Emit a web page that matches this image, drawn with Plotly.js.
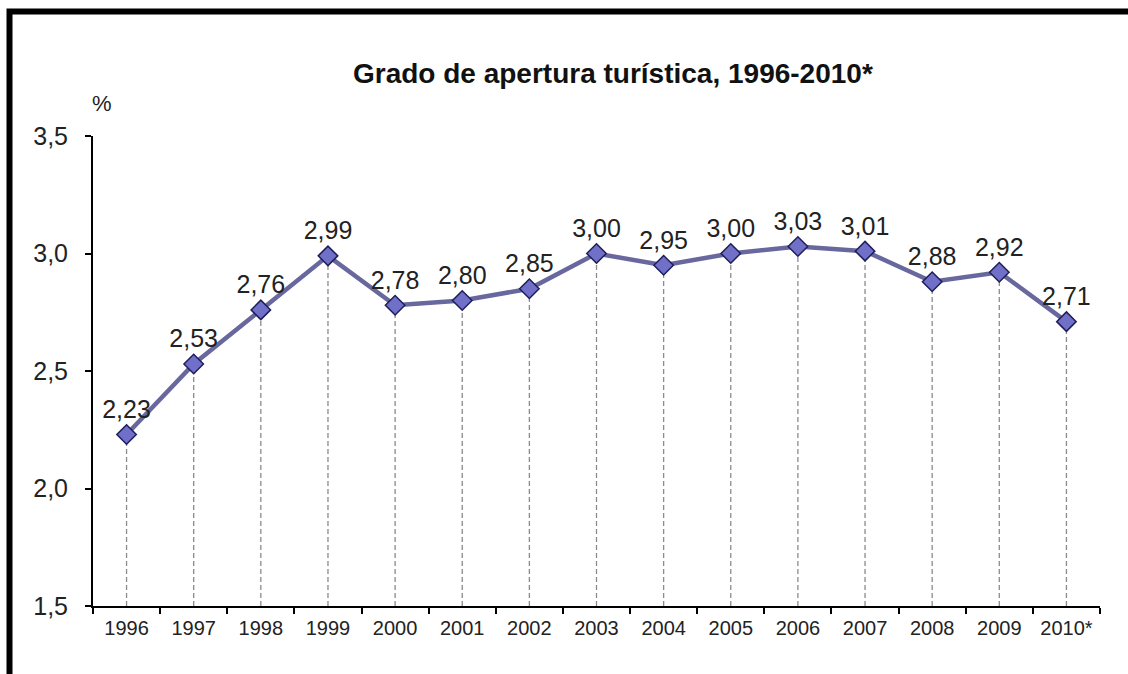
<!DOCTYPE html>
<html>
<head>
<meta charset="utf-8">
<script src="https://cdn.plot.ly/plotly-3.0.1.min.js"></script>
<style>
  html, body { margin: 0; padding: 0; background: #fff; }
  #chart { width: 1128px; height: 674px; }
</style>
</head>
<body>
<div id="chart"></div>
<script>
// Grado de apertura turística
var years = ['1996', '1997', '1998', '1999', '2000', '2001', '2002', '2003',
             '2004', '2005', '2006', '2007', '2008', '2009', '2010*'];
var values = [2.23, 2.53, 2.76, 2.99, 2.78, 2.80, 2.85, 3.00,
              2.95, 3.00, 3.03, 3.01, 2.88, 2.92, 2.71];
var yTicks = [1.5, 2.0, 2.5, 3.0, 3.5];
var yMin = 1.5, yMax = 3.5;

var font = '"Liberation Sans", Arial, sans-serif';

// dashed drop lines from each point down to the axis
var dropX = [], dropY = [];
years.forEach(function(yr, i) {
  dropX.push(yr, yr, null);
  dropY.push(yMin, values[i], null);
});

var drops = {
  x: dropX, y: dropY,
  type: 'scatter', mode: 'lines',
  line: {color: 'rgb(140,140,140)', width: 1.3, dash: '5px,3px'},
  hoverinfo: 'skip', showlegend: false, cliponaxis: false
};

var serie = {
  x: years, y: values,
  type: 'scatter', mode: 'lines+markers+text',
  line: {color: 'rgb(104,104,158)', width: 4.5},
  marker: {symbol: 'diamond', size: 15, color: 'rgb(112,112,200)',
           line: {color: 'rgb(30,30,90)', width: 1.5}},
  texttemplate: '%{y:.2f}', textposition: 'top center',
  textfont: {family: font, size: 25, color: '#222'},
  showlegend: false, cliponaxis: false
};

var layout = {
  width: 1128, height: 674,
  margin: {l: 93, r: 28, t: 136, b: 68},
  paper_bgcolor: '#fff', plot_bgcolor: '#fff',
  separators: ',.',
  font: {family: font, color: '#222'},
  showlegend: false,
  xaxis: {
    type: 'category', range: [-0.5, years.length - 0.5],
    showgrid: false, zeroline: false,
    showline: true, linecolor: '#000', linewidth: 2,
    ticks: 'outside', tickson: 'boundaries', ticklen: 6, tickwidth: 2, tickcolor: '#000',
    tickfont: {family: font, size: 20, color: '#222'},
    ticklabelstandoff: 3
  },
  yaxis: {
    range: [yMin, yMax],
    tickvals: yTicks, tickformat: '.1f',
    showgrid: false, zeroline: false,
    showline: true, linecolor: '#000', linewidth: 2,
    ticks: 'outside', ticklen: 6, tickwidth: 2, tickcolor: '#000',
    tickfont: {family: font, size: 25, color: '#222'},
    ticklabelstandoff: 12
  },
  annotations: [
    {xref: 'paper', yref: 'paper', x: 0.516, y: 1.133, xanchor: 'center', yanchor: 'middle',
     text: '<b>Grado de apertura turística, 1996-2010*</b>', showarrow: false,
     font: {family: font, size: 28, color: '#111'}},
    {xref: 'paper', yref: 'paper', x: 0.009, y: 1.07, xanchor: 'center', yanchor: 'middle',
     text: '%', showarrow: false, font: {family: font, size: 22, color: '#222'}}
  ],
  shapes: [
    {type: 'rect', xref: 'paper', yref: 'paper',
     x0: (9.5 - 93) / 1007, x1: (1140 - 93) / 1007,
     y0: (606 - 700) / 470, y1: (606 - 11.5) / 470,
     line: {color: '#000', width: 6}, fillcolor: 'rgba(0,0,0,0)', layer: 'above'}
  ]
};

Plotly.newPlot('chart', [drops, serie], layout, {displayModeBar: false, staticPlot: true});
</script>
</body>
</html>
